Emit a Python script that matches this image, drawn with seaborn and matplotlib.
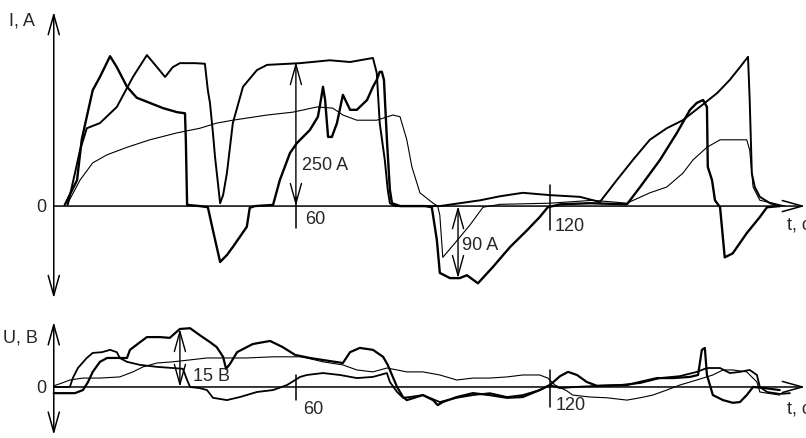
import matplotlib
matplotlib.use("Agg")
import matplotlib.pyplot as plt
import seaborn as sns

# Осциллограммы тока I(t) - три записи
p_t = [5.4, 8.3, 9.4, 10.6, 12.0, 13.7, 16.1, 17.7, 20.1, 22.4, 25.5, 28.6, 31.9, 33.8, 34.0, 34.3,
       37.3, 39.2, 40.4, 42.1, 43.7, 45.1, 48.4, 49.1, 50.3, 54.6, 56.2, 58.6, 60.2, 63.3, 65.2,
       65.9, 66.4, 66.9, 67.6, 68.5, 69.7, 71.1, 72.8, 74.4, 76.8, 78.2, 79.1, 79.8, 80.3, 80.8,
       81.5, 82.2, 82.7, 84.6, 90.5, 92.1, 93.3, 94.0, 96.4, 98.7, 100.4, 103.0, 106.5, 110.6,
       114.6, 117.6, 119.5, 122.4, 129.5, 138.2, 141.3, 146.0, 150.0, 153.1, 154.7, 156.2, 157.1,
       157.3, 158.3, 159.0, 160.2, 161.3, 163.2, 166.5, 169.6, 171.3, 174.3]
p_i = [2, 45, 115, 155, 201, 224, 260, 241, 207, 188, 179, 170, 163, 161, 115, 2,
       0, -2, -42, -97, -85, -71, -36, -3, 0, 2, 45, 92, 109, 132, 155,
       184, 207, 184, 120, 120, 144, 193, 167, 167, 184, 207, 219, 233, 233, 219,
       115, 28, 5, 0, 0, -2, -59, -116, -125, -125, -120, -134, -106, -71,
       -42, -19, -2, 3, 5, 3, 33, 80, 127, 167, 179, 184, 172,
       68, 45, 10, -2, -89, -82, -47, -19, -2, 0]

q_t = [6.1, 7.8, 9.0, 10.6, 13.7, 17.7, 21.5, 24.8, 27.2, 29.1, 30.9, 32.6, 36.1, 38.5, 39.2,
       39.7, 40.4, 40.9, 42.1, 42.8, 43.7, 45.1, 47.5, 50.8, 53.2, 61.0, 68.0, 72.8, 78.2, 79.1,
       79.8, 81.0, 81.7, 82.2, 83.4, 94.0, 103.5, 108.2, 113.6, 120.0, 127.1, 131.8, 135.8,
       139.6, 143.6, 147.6, 151.4, 155.4, 159.5, 162.5, 164.9, 166.8, 167.2, 167.7, 168.4,
       169.6, 172.0, 174.3]
q_i = [2, 57, 97, 135, 144, 172, 224, 262, 241, 224, 241, 248, 248, 247, 201,
       179, 127, 85, 5, 19, 57, 144, 207, 236, 245, 248, 253, 250, 257, 231,
       144, 80, 28, 5, 0, 0, 10, 17, 23, 19, 16, 7, 45,
       80, 115, 135, 149, 172, 196, 219, 241, 259, 184, 57, 33,
       16, 5, 0]

r_t = [6.1, 9.0, 12.0, 15.4, 20.1, 25.5, 31.9, 37.3, 41.3, 45.1, 53.2, 59.3, 65.0, 68.7, 71.1,
       74.4, 79.1, 82.9, 84.6, 86.2, 87.4, 89.3, 92.4, 93.5, 94.0, 94.7, 97.6, 101.1, 104.2,
       108.2, 120.0, 130.2, 138.2, 143.6, 147.6, 151.4, 153.8, 157.1, 160.2, 166.5, 167.2,
       168.0, 169.6, 172.7, 175.5]
r_i = [5, 45, 75, 89, 102, 115, 127, 135, 144, 149, 158, 163, 172, 170, 158,
       149, 149, 158, 155, 115, 68, 23, 5, 0, -16, -89, -64, -33, -2,
       3, 5, 10, 5, 23, 33, 57, 80, 102, 115, 115, 97,
       33, 10, 5, 0]

# Осциллограммы напряжения U(t)
v1_t = [2.8, 7.8, 9.7, 10.9, 12.0, 13.7, 15.4, 20.1, 20.8, 23.2, 24.8, 27.9, 30.2, 32.6, 35.0,
        37.3, 39.7, 41.3, 42.8, 43.5, 44.4, 46.1, 49.8, 53.9, 56.9, 59.8, 63.3, 68.0, 71.1, 72.8,
        75.1, 78.2, 80.6, 81.7, 82.7, 83.9, 85.3, 86.2, 90.0, 92.4, 93.5, 94.7, 98.0, 101.8,
        105.8, 109.9, 113.6, 117.6, 120.0, 122.4, 124.3, 126.4, 128.7, 131.1, 138.2, 141.3,
        145.3, 149.1, 153.1, 155.0, 155.9, 156.6, 157.1, 157.8, 158.5, 160.9, 163.2, 164.9,
        166.5, 168.0, 170.8, 174.3]
v1_u = [-1.6, -1.6, -0.8, 1.3, 3.9, 6.5, 7.5, 7.5, 9.6, 11.6, 12.9, 12.9, 12.7, 15.0, 15.2,
        13.4, 11.6, 10.3, 7.8, 4.7, 5.9, 9.0, 11.1, 11.9, 10.3, 8.3, 7.5, 6.7, 6.2, 9.0,
        10.1, 9.6, 7.8, 5.7, 3.1, 0.0, -2.6, -3.4, -2.1, -3.4, -4.7, -3.9, -2.6, -1.6,
        -2.1, -2.8, -2.6, -0.8, 0.5, 2.8, 3.9, 3.1, 1.3, 0.3, 0.5, 1.3,
        2.3, 2.3, 2.6, 3.1, 9.6, 10.1, 3.1, 0.5, -2.1, -3.4, -4.1, -3.9,
        -2.1, 0.0, -0.3, -0.8]

v2_t = [2.8, 6.6, 7.3, 8.5, 10.6, 12.0, 14.2, 16.1, 17.7, 18.4, 20.1, 23.2, 27.2, 30.9, 33.3,
        34.3, 35.0, 37.3, 39.0, 40.4, 43.7, 46.8, 50.8, 54.6, 57.9, 61.0, 62.6, 66.4, 70.4, 74.4,
        78.2, 81.5, 82.2, 83.9, 85.3, 86.9, 90.0, 94.0, 98.0, 101.8, 105.8, 109.9, 113.6, 117.6,
        120.0, 122.4, 125.9, 131.8, 136.5, 141.3, 146.0, 150.7, 154.7, 157.1, 160.2, 162.5,
        164.9, 167.2, 168.9, 169.6, 171.3, 174.3, 176.7]
v2_u = [0.0, 0.0, 2.3, 4.9, 7.5, 8.8, 9.0, 9.6, 9.0, 7.5, 6.5, 5.7, 5.2, 4.9, 4.7,
        1.8, 0.0, -0.3, -0.8, -2.8, -3.4, -2.6, -1.3, -0.8, 0.5, 2.6, 3.1, 3.6, 3.1, 2.3,
        2.6, 3.6, 1.3, -1.3, -2.8, -2.6, -2.1, -3.9, -2.8, -2.1, -1.6, -2.6, -2.1, -0.8,
        0.5, -0.3, 0.0, 0.3, 0.5, 1.0, 2.3, 2.8, 3.9, 4.9, 4.9, 3.6,
        3.9, 4.4, 3.1, 0.0, -1.3, -1.8, -1.6]

v3_t = [2.8, 4.7, 6.6, 9.7, 13.7, 18.4, 21.5, 23.9, 27.2, 30.9, 35.0, 39.0, 43.7, 48.4, 54.6,
        61.0, 62.6, 66.4, 71.1, 74.4, 78.2, 81.5, 83.9, 86.2, 90.0, 94.0, 98.0, 101.8, 105.8,
        109.9, 113.6, 117.6, 119.5, 121.2, 124.0, 125.4, 129.5, 133.5, 138.2, 141.3, 144.3,
        147.6, 150.7, 154.7, 158.5, 160.9, 163.2, 166.5, 168.9, 169.6, 171.3, 174.3]
v3_u = [0.3, 1.0, 1.8, 2.3, 2.3, 2.6, 3.9, 5.2, 6.2, 6.5, 7.0, 7.5, 7.5, 7.5, 7.8,
        7.8, 7.5, 6.5, 5.7, 4.4, 3.9, 4.9, 4.4, 3.9, 3.9, 3.1, 1.8, 2.3, 2.3,
        2.6, 3.1, 3.1, 2.3, 0.5, -1.0, -2.1, -2.6, -2.8, -3.4, -2.8, -2.1,
        -0.8, 0.5, 1.8, 3.1, 4.4, 4.4, 3.9, 1.3, -1.3, -1.6, -2.1]

time_ticks = [60, 120]
t0 = 2.8      # положение вертикальной оси
t_end = 180.3

sns.set_style('white')
plt.rcParams['font.family'] = ['Liberation Sans', 'DejaVu Sans']
FS = 13

fig = plt.figure(figsize=(8.06, 4.38), dpi=100)
ax1 = fig.add_axes([0, 138 / 438, 1, 300 / 438])
ax2 = fig.add_axes([0, 0, 1, 133 / 438])

for ax in (ax1, ax2):
    ax.set_xlim(-9.9, 180.5)
    ax.set_axis_off()
ax1.set_ylim(-163, 357.6)
ax2.set_ylim(-13.2, 21.2)

arrow_kw = dict(color='black', lw=1.1, shrinkA=0, shrinkB=0, mutation_scale=16)


def two_way(ax, x, y0, y1, lw=1.1):
    ax.annotate('', xy=(x, y1), xytext=(x, y0),
                arrowprops=dict(arrowstyle='<->,head_length=0.9,head_width=0.25', **{**arrow_kw, 'lw': lw}))


# ---- ток
sns.lineplot(x=p_t, y=p_i, ax=ax1, sort=False, estimator=None, color='black', lw=1.7)
sns.lineplot(x=q_t, y=q_i, ax=ax1, sort=False, estimator=None, color='black', lw=1.4)
sns.lineplot(x=r_t, y=r_i, ax=ax1, sort=False, estimator=None, color='black', lw=0.8)

two_way(ax1, t0, -160, 337)
ax1.annotate('', xy=(t_end, 0), xytext=(t0, 0),
             arrowprops=dict(arrowstyle='->,head_length=0.9,head_width=0.25', **arrow_kw))
ax1.plot([60, 60], [16, -38], color='black', lw=1.1)
ax1.plot([120, 120], [36, -42], color='black', lw=1.1)
two_way(ax1, 60, 0, 250, lw=1.0)
two_way(ax1, 98.3, 0, -125, lw=1.0)

ax1.text(-4.7, 321, 'I, A', fontsize=FS, ha='center', va='center')
ax1.text(-0.2, -2, '0', fontsize=FS, ha='center', va='center')
ax1.text(62.1, -24, '60', fontsize=FS, ha='left', va='center')
ax1.text(121.2, -35, '120', fontsize=FS, ha='left', va='center')
ax1.text(176.0, -33, 't, c', fontsize=FS, ha='left', va='center', clip_on=False)
ax1.text(61.4, 71, '250 A', fontsize=FS, ha='left', va='center')
ax1.text(99.2, -68, '90 A', fontsize=FS, ha='left', va='center')

# ---- напряжение
sns.lineplot(x=v1_t, y=v1_u, ax=ax2, sort=False, estimator=None, color='black', lw=1.6)
sns.lineplot(x=v2_t, y=v2_u, ax=ax2, sort=False, estimator=None, color='black', lw=1.3)
sns.lineplot(x=v3_t, y=v3_u, ax=ax2, sort=False, estimator=None, color='black', lw=0.8)

two_way(ax2, t0, -12.4, 16.8)
ax2.annotate('', xy=(t_end, 0), xytext=(t0, 0),
             arrowprops=dict(arrowstyle='->,head_length=0.9,head_width=0.25', **arrow_kw))
ax2.plot([60, 60], [3.1, -3.4], color='black', lw=1.1)
ax2.plot([120, 120], [4.4, -5.2], color='black', lw=1.1)
two_way(ax2, 32.6, 0, 15, lw=1.0)

ax2.text(-5.0, 12.7, 'U, B', fontsize=FS, ha='center', va='center')
ax2.text(-0.2, -0.3, '0', fontsize=FS, ha='center', va='center')
ax2.text(61.7, -5.7, '60', fontsize=FS, ha='left', va='center')
ax2.text(121.4, -4.9, '120', fontsize=FS, ha='left', va='center')
ax2.text(176.0, -5.7, 't, c', fontsize=FS, ha='left', va='center', clip_on=False)
ax2.text(35.7, 2.8, '15 B', fontsize=FS, ha='left', va='center')

fig.savefig('out.png', dpi=100, facecolor='white')
